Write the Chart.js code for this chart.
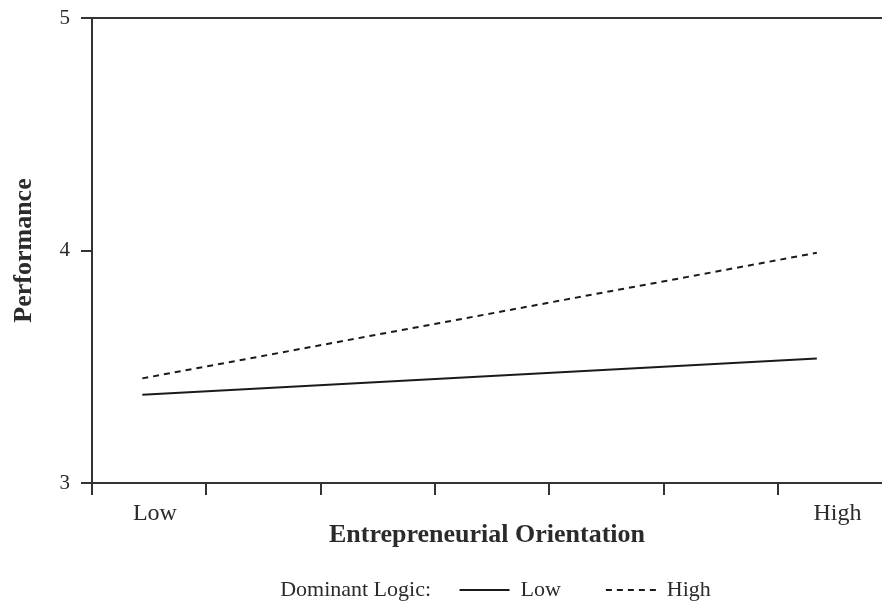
<!DOCTYPE html>
<html>
<head>
<meta charset="utf-8">
<script src="https://cdn.jsdelivr.net/npm/chart.js@4.4.1/dist/chart.umd.min.js"></script>
<style>
	html, body { margin: 0; padding: 0; background: #fff; }
	.chart-wrap { width: 882px; height: 610px; }
</style>
</head>
<body>
<div class="chart-wrap"><canvas id="eo__chart"></canvas></div>
<script>
// data
const eoLevels = ['Low', 'High'];
const eoValues = [0.44, 6.34];
const dlLevels = ['Low', 'High'];
const perfLowDL = [3.38, 3.535];
const perfHighDL = [3.45, 3.99];
const yTicks = [3, 4, 5];
const xTickMarks = [0, 1, 2, 3, 4, 5, 6];
const xLabelValues = [0.55, 6.52];

const legendTitle = 'Dominant Logic:';
const axisColor = '#333';
const lineColor = '#1a1a1a';
const textColor = '#2b2b2b';
const serif = '"Liberation Serif", "Times New Roman", serif';

document.addEventListener('DOMContentLoaded', function () {
	const ctx = document.getElementById('eo__chart').getContext('2d');
	Chart.defaults.font.family = serif;
	Chart.defaults.color = textColor;

	const points = series => eoValues.map((x, i) => ({ x: x, y: series[i] }));

	new Chart(ctx, {
		type: 'line',
		data: {
			datasets: [
				{
					label: dlLevels[0],
					data: points(perfLowDL),
					borderColor: lineColor,
					borderWidth: 2,
					pointRadius: 0,
					fill: false,
				},
				{
					label: dlLevels[1],
					data: points(perfHighDL),
					borderColor: lineColor,
					borderWidth: 2,
					borderDash: [6, 5],
					pointRadius: 0,
					fill: false,
				},
			],
		},
		options: {
			responsive: true,
			maintainAspectRatio: false,
			animation: false,
			layout: { padding: 0 },
			plugins: {
				tooltip: { enabled: false },
				legend: {
					position: 'bottom',
					fullSize: false,
					maxHeight: 43,
					labels: {
						usePointStyle: true,
						pointStyleWidth: 50,
						padding: 12,
						color: textColor,
						font: { size: 22 },
						generateLabels: function (chart) {
							const items = Chart.defaults.plugins.legend.labels.generateLabels(chart);
							items.forEach((item, i) => {
								item.pointStyle = 'line';
								item.strokeStyle = lineColor;
								item.lineWidth = 2;
								item.lineDash = chart.data.datasets[i].borderDash || [];
								item.fontColor = textColor;
							});
							items[0].text += '      ';
							items[1].text += '        ';
							return [
								{
									text: legendTitle + '   ',
									pointStyle: 'line',
									strokeStyle: 'transparent',
									fillStyle: 'transparent',
									lineWidth: 0,
									fontColor: textColor,
									hidden: false,
								},
								...items,
							];
						},
					},
					onClick: function () {},
				},
			},
			scales: {
				x: {
					type: 'linear',
					min: 0,
					max: 6.91,
					afterBuildTicks: function (scale) {
						scale.ticks = xTickMarks
							.concat(xLabelValues)
							.sort((a, b) => a - b)
							.map(v => ({ value: v }));
					},
					afterFit: function (scale) {
						scale.height = 84;
					},
					ticks: {
						autoSkip: false,
						maxRotation: 0,
						padding: 4,
						color: textColor,
						font: { size: 24 },
						callback: function (value) {
							const i = xLabelValues.indexOf(value);
							return i >= 0 ? eoLevels[i] : '';
						},
					},
					grid: {
						drawOnChartArea: false,
						tickLength: 12,
						lineWidth: 2,
						tickColor: function (c) {
							return c.tick && xLabelValues.includes(c.tick.value) ? 'transparent' : axisColor;
						},
					},
					border: { color: axisColor, width: 2 },
					title: {
						display: true,
						text: 'Entrepreneurial Orientation',
						color: textColor,
						font: { size: 26, weight: 'bold' },
						padding: { top: 0, bottom: 16 },
					},
				},
				y: {
					min: 3,
					max: 5,
					afterBuildTicks: function (scale) {
						scale.ticks = yTicks.map(v => ({ value: v }));
					},
					afterFit: function (scale) {
						scale.width = 92;
						scale.paddingTop = 18;
					},
					ticks: {
						padding: 11,
						color: textColor,
						font: { size: 21 },
					},
					grid: {
						lineWidth: 2,
						tickLength: 11,
						tickColor: axisColor,
						color: function (c) {
							return c.tick && c.tick.value === 5 ? axisColor : 'transparent';
						},
					},
					border: { color: axisColor, width: 2 },
					title: {
						display: true,
						text: 'Performance',
						color: textColor,
						font: { size: 26, weight: 'bold' },
						padding: { top: 9, bottom: 0 },
					},
				},
			},
		},
	});
});
</script>
</body>
</html>
